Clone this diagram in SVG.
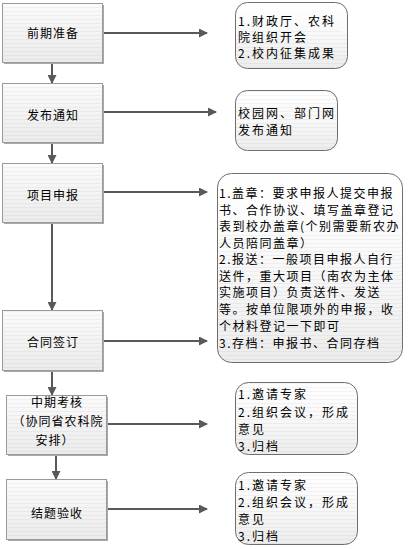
<svg xmlns="http://www.w3.org/2000/svg" width="409" height="549" viewBox="0 0 409 549">
<defs>
<linearGradient id="gL" x1="0" y1="0" x2="0" y2="1">
<stop offset="0" stop-color="#fbfbfb"/>
<stop offset="1" stop-color="#ebebeb"/>
</linearGradient>
<linearGradient id="gR" x1="0" y1="0" x2="0" y2="1">
<stop offset="0" stop-color="#ffffff"/>
<stop offset="0.5" stop-color="#f8f8f8"/>
<stop offset="1" stop-color="#ececec"/>
</linearGradient>
<pattern id="stripes" width="4" height="4" patternUnits="userSpaceOnUse">
<rect width="4" height="1" y="3" fill="#000" fill-opacity="0.04"/>
</pattern>
<marker id="arr" markerWidth="9" markerHeight="9" refX="8" refY="4.5" orient="auto" markerUnits="userSpaceOnUse">
<path d="M0,0 L9,4.5 L0,9 Z" fill="#595959"/>
</marker>
</defs>
<style>
.box{fill:url(#gL);stroke:#9a9a9a;stroke-width:1}
.shadow{fill:#a8a8a8}
.str{fill:url(#stripes);stroke:none}
.rbox{fill:url(#gR);stroke:#6e6e6e;stroke-width:1}
.t{font-family:"Noto Sans CJK SC","Noto Sans CJK JP",sans-serif;font-size:12px;fill:#000}
.lt{letter-spacing:1px;text-anchor:middle}
.rt{letter-spacing:2px}
.rt3{letter-spacing:1.5px}
.c{stroke:#595959;stroke-width:2;fill:none;marker-end:url(#arr)}
</style>

<g id="connectors">
<line class="c" x1="52" y1="62" x2="52" y2="83"/>
<line class="c" x1="52" y1="142" x2="52" y2="163"/>
<line class="c" x1="52" y1="222" x2="52" y2="310"/>
<line class="c" x1="52" y1="370" x2="52" y2="395"/>
<line class="c" x1="56" y1="454" x2="56" y2="479"/>
<line class="c" x1="102" y1="33" x2="207" y2="33"/>
<line class="c" x1="102" y1="112" x2="216" y2="112"/>
<line class="c" x1="102" y1="192" x2="207" y2="192"/>
<line class="c" x1="102" y1="341" x2="207" y2="341"/>
<line class="c" x1="106" y1="424" x2="207" y2="424"/>
<line class="c" x1="106" y1="509" x2="207" y2="509"/>
</g>

<g id="n1">
<rect class="shadow" x="4" y="5" width="100" height="59"/>
<rect class="box" x="2.5" y="3.5" width="100" height="59"/>
<rect class="str" x="3" y="4" width="99" height="58"/>
<text class="t lt" x="53" y="38">前期准备</text>
</g>
<g id="n2">
<rect class="shadow" x="4" y="85" width="100" height="59"/>
<rect class="box" x="2.5" y="83.5" width="100" height="59"/>
<rect class="str" x="3" y="84" width="99" height="58"/>
<text class="t lt" x="53" y="120">发布通知</text>
</g>
<g id="n3">
<rect class="shadow" x="4" y="165" width="100" height="59"/>
<rect class="box" x="2.5" y="163.5" width="100" height="59"/>
<rect class="str" x="3" y="164" width="99" height="58"/>
<text class="t lt" x="53" y="200">项目申报</text>
</g>
<g id="n4">
<rect class="shadow" x="4" y="312" width="100" height="60"/>
<rect class="box" x="2.5" y="310.5" width="100" height="60"/>
<rect class="str" x="3" y="311" width="99" height="59"/>
<text class="t lt" x="53" y="347">合同签订</text>
</g>
<g id="n5">
<rect class="shadow" x="8" y="397" width="100" height="59"/>
<rect class="box" x="6.5" y="395.5" width="100" height="59"/>
<rect class="str" x="7" y="396" width="99" height="58"/>
<text class="t lt" x="57" y="407">中期考核</text>
<text class="t lt" x="58" y="426">（协同省农科院</text>
<text class="t lt" x="55" y="445">安排）</text>
</g>
<g id="n6">
<rect class="shadow" x="8" y="481" width="100" height="60"/>
<rect class="box" x="6.5" y="479.5" width="100" height="60"/>
<rect class="str" x="7" y="480" width="99" height="59"/>
<text class="t lt" x="57" y="518">结题验收</text>
</g>

<g id="r1">
<rect class="rbox" x="235.5" y="2.5" width="112" height="66" rx="12"/>
<rect class="str" x="236" y="30" width="111" height="38" rx="11"/>
<text class="t rt" x="238" y="26">1.财政厅、农科</text>
<text class="t rt" x="238" y="42">院组织开会</text>
<text class="t rt" x="238" y="58">2.校内征集成果</text>
</g>
<g id="r2">
<rect class="rbox" x="235.5" y="90.5" width="102" height="60" rx="12"/>
<rect class="str" x="236" y="91" width="101" height="59" rx="11"/>
<text class="t rt" x="238" y="118">校园网、部门网</text>
<text class="t rt" x="238" y="135">发布通知</text>
</g>
<g id="r3">
<rect class="rbox" x="217.5" y="173.5" width="185" height="189" rx="14"/>
<rect class="str" x="218" y="230" width="184" height="132" rx="13"/>
<text class="t rt3" x="219" y="198">1.盖章：要求申报人提交申报</text>
<text class="t rt3" x="219" y="215">书、合作协议、填写盖章登记</text>
<text class="t rt3" x="219" y="231">表到校办盖章(个别需要新农办</text>
<text class="t rt3" x="219" y="248">人员陪同盖章）</text>
<text class="t rt3" x="219" y="264">2.报送：一般项目申报人自行</text>
<text class="t rt3" x="219" y="281">送件，重大项目（南农为主体</text>
<text class="t rt3" x="219" y="297">实施项目）负责送件、发送</text>
<text class="t rt3" x="219" y="314">等。按单位限项外的申报，收</text>
<text class="t rt3" x="219" y="331">个材料登记一下即可</text>
<text class="t rt3" x="219" y="348">3.存档：申报书、合同存档</text>
</g>
<g id="r4">
<rect class="rbox" x="235.5" y="382.5" width="122" height="72" rx="13"/>
<rect class="str" x="236" y="383" width="121" height="71" rx="12"/>
<text class="t rt" x="238" y="399">1.邀请专家</text>
<text class="t rt" x="238" y="417">2.组织会议，形成</text>
<text class="t rt" x="238" y="434">意见</text>
<text class="t rt" x="238" y="451">3.归档</text>
</g>
<g id="r5">
<rect class="rbox" x="235.5" y="472.5" width="122" height="72" rx="13"/>
<rect class="str" x="236" y="473" width="121" height="71" rx="12"/>
<text class="t rt" x="238" y="490">1.邀请专家</text>
<text class="t rt" x="238" y="507">2.组织会议，形成</text>
<text class="t rt" x="238" y="524">意见</text>
<text class="t rt" x="238" y="541">3.归档</text>
</g>
</svg>
